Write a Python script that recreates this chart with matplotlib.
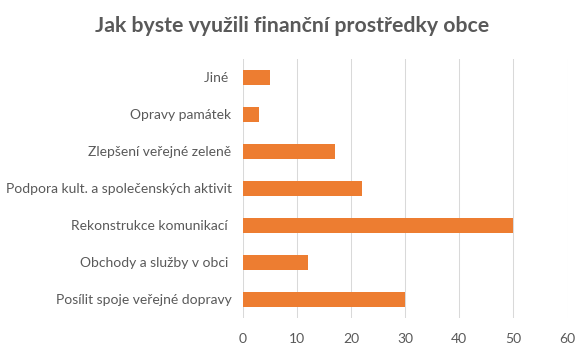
import matplotlib
matplotlib.use("Agg")
import matplotlib.pyplot as plt

categories = ["Posílit spoje veřejné dopravy", "Obchody a služby v obci ", "Rekonstrukce komunikací ",
              "Podpora kult. a společenských aktivit", "Zlepšení veřejné zeleně", "Opravy památek", "Jiné "]
values = [30, 12, 50, 22, 17, 3, 5]
xticks = [0, 10, 20, 30, 40, 50, 60]
title = "Jak byste využili finanční prostředky obce"

plt.rcParams['font.family'] = ['Lato', 'DejaVu Sans']
fig = plt.figure(figsize=(5.87, 3.51), dpi=100)
ax = fig.add_axes([0.4135, 0.094, 0.967 - 0.4135, 0.833 - 0.094])
ax.barh(range(len(categories)), values, height=0.41, color="#ED7D31", zorder=3)
ax.set_yticks(range(len(categories)))
ax.set_yticklabels(categories, color="#595959", fontsize=10)
ax.set_xlim(0, 60)
ax.set_ylim(-0.5, len(categories) - 0.5)
ax.set_xticks(xticks)
ax.set_xticklabels([str(t) for t in xticks], color="#595959", fontsize=10)
ax.grid(axis="x", color="#D9D9D9", linewidth=0.75, zorder=0)
for s in ax.spines.values():
    s.set_visible(False)
ax.tick_params(length=0, pad=8)
ax.tick_params(axis="x", pad=11)
fig.text(292 / 587, 1 - 26 / 351, title, ha="center", va="center", fontsize=15.3, fontweight="bold", color="#595959")
fig.savefig("out.png", dpi=100, facecolor="white")
